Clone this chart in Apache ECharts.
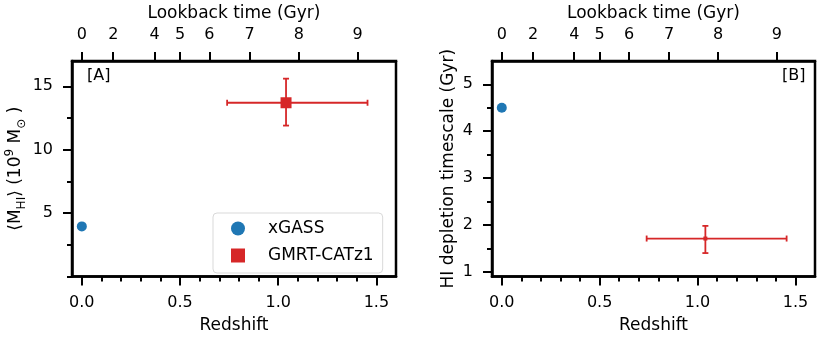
<!DOCTYPE html>
<html>
<head>
<meta charset="utf-8">
<script src="https://cdn.jsdelivr.net/npm/echarts@6/dist/echarts.min.js"></script>
<style>
html, body { margin: 0; padding: 0; background: #fff; }
#main { width: 830px; height: 342px; }
</style>
</head>
<body>
<div id="main"></div>
<script>
// redshift axis
var zMin = -0.05, zMax = 1.6;
var zMajor = [0, 0.5, 1.0, 1.5];
var zMinor = [0.1, 0.2, 0.3, 0.4, 0.6, 0.7, 0.8, 0.9, 1.1, 1.2, 1.3, 1.4];

// top axis: lookback time ticks placed at redshift
var lookbackLabels = ['0', '2', '4', '5', '6', '7', '8', '9'];
var lookbackZ = [0, 0.16, 0.37, 0.5, 0.65, 0.855, 1.105, 1.405];

// panel A: HI mass
var massMin = 0, massMax = 17;
var massMajor = [5, 10, 15];
var massMinor = [0, 2.5, 7.5, 12.5];

// panel B: depletion timescale
var tdepMin = 0.9, tdepMax = 5.5;
var tdepMajor = [1, 2, 3, 4, 5];
var tdepMinor = [1.5, 2.5, 3.5, 4.5];

// data
var xgassZ = [0];
var xgassMass = [3.95];
var xgassTdep = [4.5];

var gmrtZ = [1.04];
var gmrtZLo = [0.74];
var gmrtZHi = [1.455];
var gmrtMass = [13.7];
var gmrtMassLo = [11.9];
var gmrtMassHi = [15.6];
var gmrtTdep = [1.71];
var gmrtTdepLo = [1.40];
var gmrtTdepHi = [1.98];

var FONT = 'DejaVu Sans';
var BLUE = '#1f77b4', RED = '#d62728';

function pairs(xs, ys) {
	return xs.map(function (x, i) { return [x, ys[i]]; });
}
function errRows(y, ylo, yhi) {
	return gmrtZ.map(function (z, i) {
		return [z, y[i], gmrtZLo[i], gmrtZHi[i], ylo[i], yhi[i]];
	});
}

function errorBars(params, api) {
	var c = api.coord([api.value(0), api.value(1)]);
	var xl = api.coord([api.value(2), api.value(1)]);
	var xh = api.coord([api.value(3), api.value(1)]);
	var yl = api.coord([api.value(0), api.value(4)]);
	var yh = api.coord([api.value(0), api.value(5)]);
	var cap = 3;
	var st = { stroke: RED, lineWidth: 1.8 };
	var ln = function (x1, y1, x2, y2) {
		return { type: 'line', shape: { x1: x1, y1: y1, x2: x2, y2: y2 }, style: st };
	};
	return {
		type: 'group',
		children: [
			ln(xl[0], c[1], xh[0], c[1]),
			ln(c[0], yl[1], c[0], yh[1]),
			ln(xl[0], c[1] - cap, xl[0], c[1] + cap),
			ln(xh[0], c[1] - cap, xh[0], c[1] + cap),
			ln(c[0] - cap, yl[1], c[0] + cap, yl[1]),
			ln(c[0] - cap, yh[1], c[0] + cap, yh[1])
		]
	};
}

function majorX(grid, pos) {
	return {
		type: 'value', gridIndex: grid, position: pos, min: zMin, max: zMax,
		axisLine: { show: true, onZero: false, lineStyle: { color: '#000', width: 2.5 } },
		axisTick: { show: true, length: 9, customValues: zMajor, lineStyle: { color: '#000', width: 2 } },
		axisLabel: { customValues: zMajor, margin: 18, color: '#000', fontSize: 16, fontFamily: FONT,
			formatter: function (v) { return v.toFixed(1); } },
		splitLine: { show: false },
		name: 'Redshift', nameLocation: 'middle', nameGap: 41,
		nameTextStyle: { color: '#000', fontSize: 17, fontFamily: FONT }
	};
}
function minorX(grid) {
	return {
		type: 'value', gridIndex: grid, position: 'bottom', min: zMin, max: zMax,
		axisLine: { show: false, onZero: false },
		axisTick: { show: true, length: 5, customValues: zMinor, lineStyle: { color: '#000', width: 2 } },
		axisLabel: { show: false },
		splitLine: { show: false }
	};
}
function topX(grid) {
	return {
		type: 'value', gridIndex: grid, position: 'top', min: zMin, max: zMax,
		axisLine: { show: true, onZero: false, lineStyle: { color: '#000', width: 2.5 } },
		axisTick: { show: true, length: 9, customValues: lookbackZ, lineStyle: { color: '#000', width: 2 } },
		axisLabel: { customValues: lookbackZ, margin: 18, color: '#000', fontSize: 16, fontFamily: FONT,
			formatter: function (v) { return lookbackLabels[lookbackZ.indexOf(v)]; } },
		splitLine: { show: false },
		name: 'Lookback time (Gyr)', nameLocation: 'middle', nameGap: 38,
		nameTextStyle: { color: '#000', fontSize: 17, fontFamily: FONT }
	};
}
function majorY(grid, min, max, ticks, name, gap, rich) {
	var ax = {
		type: 'value', gridIndex: grid, position: 'left', min: min, max: max,
		axisLine: { show: true, onZero: false, lineStyle: { color: '#000', width: 2.5 } },
		axisTick: { show: true, length: 9, customValues: ticks, lineStyle: { color: '#000', width: 2 } },
		axisLabel: { customValues: ticks, margin: 19, color: '#000', fontSize: 16, fontFamily: FONT },
		splitLine: { show: false },
		name: name, nameLocation: 'middle', nameGap: gap,
		nameTextStyle: { color: '#000', fontSize: 17, fontFamily: FONT }
	};
	if (rich) ax.nameTextStyle.rich = rich;
	return ax;
}
function minorY(grid, min, max, ticks) {
	return {
		type: 'value', gridIndex: grid, position: 'left', min: min, max: max,
		axisLine: { show: false, onZero: false },
		axisTick: { show: true, length: 5, customValues: ticks, lineStyle: { color: '#000', width: 2 } },
		axisLabel: { show: false },
		splitLine: { show: false }
	};
}

var massRich = {
	a: { fontSize: 17, fontFamily: FONT, color: '#000', lineHeight: 24 },
	s: { fontSize: 12, fontFamily: FONT, color: '#000', lineHeight: 24, verticalAlign: 'bottom' },
	p: { fontSize: 12, fontFamily: FONT, color: '#000', lineHeight: 24, verticalAlign: 'top' }
};

var chart = echarts.init(document.getElementById('main'), null, { renderer: 'canvas' });

var option = {
	animation: false,
	backgroundColor: '#fff',
	textStyle: { fontFamily: FONT },
	title: [
		{ text: '[A]', left: 87, top: 68, padding: 0,
			textStyle: { fontSize: 16, fontWeight: 'normal', color: '#000', fontFamily: FONT } },
		{ text: '[B]', left: 782, top: 68, padding: 0,
			textStyle: { fontSize: 16, fontWeight: 'normal', color: '#000', fontFamily: FONT } }
	],
	grid: [
		{ left: 72, top: 60, width: 324, height: 216.5, show: true, borderColor: '#000', borderWidth: 2.5, backgroundColor: 'transparent' },
		{ left: 492, top: 60, width: 323, height: 216.5, show: true, borderColor: '#000', borderWidth: 2.5, backgroundColor: 'transparent' }
	],
	xAxis: [
		majorX(0, 'bottom'), minorX(0), topX(0),
		majorX(1, 'bottom'), minorX(1), topX(1)
	],
	yAxis: [
		majorY(0, massMin, massMax, massMajor,
			'{a|⟨M}{s|HI}{a|⟩ (10}{p|9}{a| M}{s|⊙}{a| )}', 44, massRich),
		minorY(0, massMin, massMax, massMinor),
		majorY(1, tdepMin, tdepMax, tdepMajor, 'HI depletion timescale (Gyr)', 35),
		minorY(1, tdepMin, tdepMax, tdepMinor)
	],
	legend: {
		left: 213, top: 213, orient: 'vertical',
		data: [{ name: 'xGASS', icon: 'circle' }, { name: 'GMRT-CATz1', icon: 'rect' }],
		itemWidth: 14, itemHeight: 14, itemGap: 10,
		padding: [7, 9, 9, 18],
		borderColor: '#d9d9d9', borderWidth: 1, borderRadius: 4,
		backgroundColor: 'rgba(255,255,255,0.8)',
		textStyle: { fontSize: 17, fontFamily: FONT, color: '#000', padding: [0, 0, 0, 18], lineHeight: 14 }
	},
	series: [
		{ name: 'xGASS', type: 'scatter', xAxisIndex: 0, yAxisIndex: 0, symbol: 'circle', symbolSize: 10,
			itemStyle: { color: BLUE, opacity: 1 }, data: pairs(xgassZ, xgassMass) },
		{ name: 'gmrt-err-a', type: 'custom', xAxisIndex: 0, yAxisIndex: 0, renderItem: errorBars,
			encode: { x: [0, 2, 3], y: [1, 4, 5] }, data: errRows(gmrtMass, gmrtMassLo, gmrtMassHi), z: 2 },
		{ name: 'GMRT-CATz1', type: 'scatter', xAxisIndex: 0, yAxisIndex: 0, symbol: 'rect', symbolSize: 11,
			itemStyle: { color: RED, opacity: 1 }, data: pairs(gmrtZ, gmrtMass), z: 3 },

		{ name: 'xGASS', type: 'scatter', xAxisIndex: 3, yAxisIndex: 2, symbol: 'circle', symbolSize: 10,
			itemStyle: { color: BLUE, opacity: 1 }, data: pairs(xgassZ, xgassTdep) },
		{ name: 'gmrt-err-b', type: 'custom', xAxisIndex: 3, yAxisIndex: 2, renderItem: errorBars,
			encode: { x: [0, 2, 3], y: [1, 4, 5] }, data: errRows(gmrtTdep, gmrtTdepLo, gmrtTdepHi), z: 2 },
		{ name: 'GMRT-CATz1', type: 'scatter', xAxisIndex: 3, yAxisIndex: 2, symbol: 'rect', symbolSize: 4,
			itemStyle: { color: RED, opacity: 1 }, data: pairs(gmrtZ, gmrtTdep), z: 3 }
	]
};

chart.setOption(option);
</script>
</body>
</html>
